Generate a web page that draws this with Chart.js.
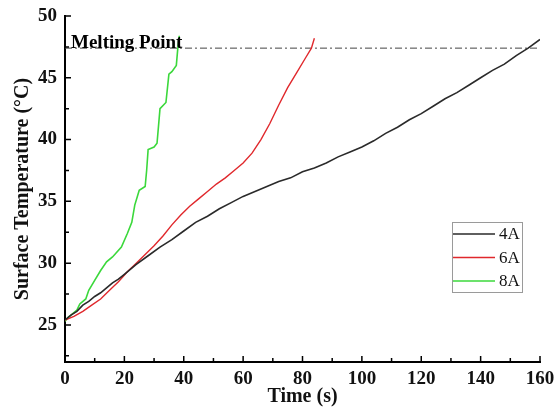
<!DOCTYPE html>
<html>
<head>
<meta charset="utf-8">
<script src="https://cdn.jsdelivr.net/npm/chart.js@4"></script>
<style>
  body { margin:0; background:#fff; }
  #wrap { width:555px; height:411px; position:relative; }
</style>
</head>
<body>
<div id="wrap"><canvas id="tempChart"></canvas></div>
<script>
// data
const time4A = [0,2,4,6,8,10,12,14,16,18,20,24,28,32,36,40,44,48,52,56,60,64,68,72,76,80,84,88,92,96,100,104,108,112,116,120,124,128,132,136,140,144,148,152,156,160];
const temp4A = [25.4,25.8,26.1,26.6,26.9,27.3,27.6,28.0,28.4,28.7,29.1,29.9,30.6,31.3,31.9,32.6,33.3,33.8,34.4,34.9,35.4,35.8,36.2,36.6,36.9,37.4,37.7,38.1,38.6,39.0,39.4,39.9,40.5,41.0,41.6,42.1,42.7,43.3,43.8,44.4,45.0,45.6,46.1,46.8,47.4,48.1];

const time6A = [0,3,6,9,12,15,18,21,24,27,30,33,36,39,42,45,48,51,54,57,60,63,66,69,72,75,78,81,83,84];
const temp6A = [25.4,25.7,26.1,26.6,27.1,27.8,28.5,29.3,30.0,30.7,31.4,32.2,33.1,33.9,34.6,35.2,35.8,36.4,36.9,37.5,38.1,38.9,40.0,41.3,42.8,44.2,45.4,46.6,47.4,48.2];

const time8A = [0,1,2,4,5,7,8,10,12,14,16,19,21,22.5,23.5,25,27,27.5,28,30,31,32,34,35,36,37.5,38,38.5];
const temp8A = [25.3,25.6,25.8,26.2,26.7,27.1,27.8,28.6,29.4,30.1,30.5,31.3,32.4,33.3,34.7,35.9,36.2,37.5,39.2,39.4,39.7,42.5,43.0,45.3,45.5,46.0,47.4,48.4];

const meltingPoint = 47.4;
const xTicks = [0,20,40,60,80,100,120,140,160];
const yTicks = [25,30,35,40,45,50];

const pts = (xs, ys) => xs.map((x,i)=>({x:x, y:ys[i]}));

const serif = "'Liberation Serif','Times New Roman',serif";

const decorations = {
  id:'decorations',
  afterDraw(chart){
    const {ctx, chartArea:a, scales:{x, y}} = chart;
    ctx.save();
    // inward ticks
    ctx.strokeStyle = '#000';
    ctx.lineWidth = 1.5;
    ctx.beginPath();
    for (let v = 0; v <= 160; v += 10) {
      const px = x.getPixelForValue(v);
      const len = v % 20 === 0 ? 6 : 4;
      ctx.moveTo(px, a.bottom); ctx.lineTo(px, a.bottom - len);
    }
    for (let v = 22.5; v <= 50; v += 2.5) {
      const py = y.getPixelForValue(v);
      const len = v % 5 === 0 ? 6 : 4;
      ctx.moveTo(a.left, py); ctx.lineTo(a.left + len, py);
    }
    ctx.stroke();

    // melting point label
    ctx.fillStyle = '#000';
    ctx.font = "bold 19px " + serif;
    ctx.textBaseline = 'alphabetic';
    ctx.textAlign = 'left';
    ctx.fillText('Melting Point', x.getPixelForValue(0) + 6, y.getPixelForValue(meltingPoint) - 0.5);

    // legend box
    const bx = a.right - 88, by = a.top + 206, bw = 70, bh = 70;
    ctx.fillStyle = '#fff';
    ctx.fillRect(bx, by, bw, bh);
    ctx.strokeStyle = '#9a9a9a';
    ctx.lineWidth = 1;
    ctx.strokeRect(bx + 0.5, by + 0.5, bw, bh);
    ctx.font = "17px " + serif;
    ctx.textBaseline = 'middle';
    chart.data.datasets.slice(0,3).forEach((ds, i) => {
      const ly = by + 12 + i * 23.5;
      ctx.strokeStyle = ds.borderColor;
      ctx.lineWidth = 1.5;
      ctx.beginPath();
      ctx.moveTo(bx + 1, ly); ctx.lineTo(bx + 43, ly);
      ctx.stroke();
      ctx.fillStyle = '#111';
      ctx.fillText(ds.label, bx + 47, ly + 1);
    });
    ctx.restore();
  }
};

new Chart(document.getElementById('tempChart'), {
  type:'line',
  data:{
    datasets:[
      { label:'4A', data:pts(time4A,temp4A), borderColor:'#2a2a2a', borderWidth:1.6 },
      { label:'6A', data:pts(time6A,temp6A), borderColor:'#e0282c', borderWidth:1.4 },
      { label:'8A', data:pts(time8A,temp8A), borderColor:'#3bd83b', borderWidth:1.6 },
      { label:'Melting Point', data:pts([0,160],[meltingPoint,meltingPoint]),
        borderColor:'#444', borderWidth:1, borderDash:[7,3,2,3] }
    ]
  },
  options:{
    responsive:true,
    maintainAspectRatio:false,
    animation:false,
    parsing:false,
    elements:{ point:{radius:0}, line:{tension:0} },
    layout:{ padding:{ top:16, right:15, bottom:0, left:0 } },
    plugins:{ legend:{display:false}, tooltip:{enabled:false} },
    scales:{
      x:{
        type:'linear', min:0, max:160,
        afterBuildTicks:s=>{ s.ticks = xTicks.map(v=>({value:v})); },
        afterFit:s=>{ s.height = 49; s.paddingRight = 0; s.paddingLeft = 0; },
        grid:{ display:false, drawTicks:false },
        border:{ color:'#000', width:2 },
        ticks:{ color:'#111', padding:6, maxRotation:0, font:{ family:serif, size:19, weight:'bold' } },
        title:{ display:true, text:'Time (s)', color:'#111', padding:{top:0,bottom:2},
          font:{ family:serif, size:20, weight:'bold', lineHeight:1.2 } }
      },
      y:{
        type:'linear', min:22, max:50,
        afterBuildTicks:s=>{ s.ticks = yTicks.map(v=>({value:v})); },
        afterFit:s=>{ s.width = 65; s.paddingTop = 0; s.paddingBottom = 0; },
        grid:{ display:false, drawTicks:false },
        border:{ color:'#000', width:2 },
        ticks:{ color:'#111', padding:8, font:{ family:serif, size:19, weight:'bold' } },
        title:{ display:true, text:'Surface Temperature (°C)', color:'#111', padding:{top:11,bottom:0},
          font:{ family:serif, size:20, weight:'bold', lineHeight:1.2 } }
      }
    }
  },
  plugins:[decorations]
});
</script>
</body>
</html>
